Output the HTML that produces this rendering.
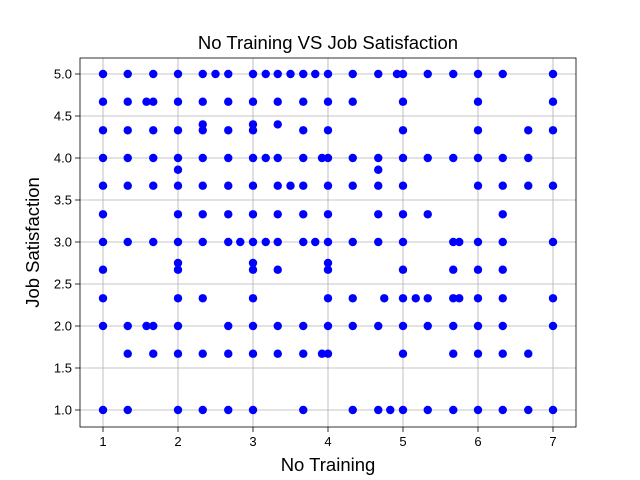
<!DOCTYPE html>
<html>
<head>
<meta charset="utf-8">
<style>
html,body{margin:0;padding:0;background:#fff;}
svg{display:block;font-family:"Liberation Sans","DejaVu Sans",sans-serif;}
</style>
</head>
<body>
<svg id="chart" width="640" height="480"></svg>
<script>
const xValues = [
1,1,1,1,1,1,1,1,1,1,1,
1.33,1.33,1.33,1.33,1.33,1.33,1.33,1.33,1.33,
1.58,1.58,
1.67,1.67,1.67,1.67,1.67,1.67,1.67,1.67,
2,2,2,2,2,2,2,2,2,2,2,2,2,2,
2.33,2.33,2.33,2.33,2.33,2.33,2.33,2.33,2.33,2.33,2.33,
2.5,
2.67,2.67,2.67,2.67,2.67,2.67,2.67,2.67,2.67,2.67,
2.83,
3,3,3,3,3,3,3,3,3,3,3,3,3,3,
3.17,3.17,3.17,
3.33,3.33,3.33,3.33,3.33,3.33,3.33,3.33,3.33,3.33,
3.5,3.5,
3.67,3.67,3.67,3.67,3.67,3.67,3.67,3.67,3.67,3.67,
3.83,3.83,
3.92,3.92,
4,4,4,4,4,4,4,4,4,4,4,4,
4.33,4.33,4.33,4.33,4.33,4.33,4.33,4.33,
4.67,4.67,4.67,4.67,4.67,4.67,4.67,4.67,
4.75,4.83,4.92,
5,5,5,5,5,5,5,5,5,5,5,5,
5.17,
5.33,5.33,5.33,5.33,5.33,5.33,
5.67,5.67,5.67,5.67,5.67,5.67,5.67,5.67,
5.75,5.75,
6,6,6,6,6,6,6,6,6,6,6,
6.33,6.33,6.33,6.33,6.33,6.33,6.33,6.33,6.33,6.33,
6.67,6.67,6.67,6.67,6.67,
7,7,7,7,7,7,7,7
];
const yValues = [
5,4.67,4.33,4,3.67,3.33,3,2.67,2.33,2,1,
5,4.67,4.33,4,3.67,3,2,1.67,1,
4.67,2,
5,4.67,4.33,4,3.67,3,2,1.67,
5,4.67,4.33,4,3.86,3.67,3.33,3,2.75,2.67,2.33,2,1.67,1,
5,4.67,4.4,4.33,4,3.67,3.33,3,2.33,1.67,1,
5,
5,4.67,4.33,4,3.67,3.33,3,2,1.67,1,
3,
5,4.67,4.4,4.33,4,3.67,3.33,3,2.75,2.67,2.33,2,1.67,1,
5,4,3,
5,4.67,4.4,4,3.67,3.33,3,2.67,2,1.67,
5,3.67,
5,4.67,4.33,4,3.67,3.33,3,2,1.67,1,
5,3,
4,1.67,
5,4.67,4.33,4,3.67,3.33,3,2.75,2.67,2.33,2,1.67,
5,4.67,4,3.67,3,2.33,2,1,
5,4,3.86,3.67,3.33,3,2,1,
2.33,1,5,
5,4.67,4.33,4,3.67,3.33,3,2.67,2.33,2,1.67,1,
2.33,
5,4,3.33,2.33,2,1,
5,4,3,2.67,2.33,2,1.67,1,
2.33,3,
5,4.67,4.33,4,3.67,3,2.67,2.33,2,1.67,1,
5,4,3.67,3.33,3,2.67,2.33,2,1.67,1,
4.33,4,3.67,1.67,1,
5,4.67,4.33,3.67,3,2.33,2,1
];
const xTicks = [1,2,3,4,5,6,7];
const yTicks = [1.0,1.5,2.0,2.5,3.0,3.5,4.0,4.5,5.0];

const NS = "http://www.w3.org/2000/svg";
const svg = document.getElementById('chart');
const L = 80, R = 576, T = 58, B = 427;
function sx(v){ return 103 + (v - 1) * 75; }
function sy(v){ return 410 - (v - 1) * 84; }
function mk(tag, attrs, parent){
  const e = document.createElementNS(NS, tag);
  for (const k in attrs) e.setAttribute(k, attrs[k]);
  (parent || svg).appendChild(e);
  return e;
}
const grid = mk('g', {});


xTicks.forEach(t => {
  const l = mk('line', {x1:sx(t), x2:sx(t), y1:T, y2:B, stroke:'#b0b0b0', 'stroke-width':0.8}, grid);
  
  
  const tk = mk('line', {x1:sx(t), x2:sx(t), y1:B, y2:B+5, stroke:'#000', 'stroke-width':0.8});
  
  
  const tx = mk('text', {x:sx(t), y:B+19, 'font-size':13, 'text-anchor':'middle'});
  tx.textContent = String(t);
  
  
});
yTicks.forEach(t => {
  const l = mk('line', {x1:L, x2:R, y1:sy(t), y2:sy(t), stroke:'#b0b0b0', 'stroke-width':0.8}, grid);
  
  
  const tk = mk('line', {x1:L-5, x2:L, y1:sy(t), y2:sy(t), stroke:'#000', 'stroke-width':0.8});
  
  
  const tx = mk('text', {x:L-8, y:sy(t)+4.5, 'font-size':13, 'text-anchor':'end'});
  tx.textContent = t.toFixed(1);
  
  
});
const pts = mk('g', {});


xValues.forEach((x, i) => {
  const c = mk('circle', {cx:sx(x), cy:sy(yValues[i]), r:4.2, fill:'#0000ff'}, pts);
  
  
});
const frame = mk('rect', {x:L, y:T, width:R-L, height:B-T, fill:'none', stroke:'#000', 'stroke-width':0.8});


const title = mk('text', {x:(L+R)/2, y:49, 'font-size':18.5, 'text-anchor':'middle'});
title.textContent = 'No Training VS Job Satisfaction';


const xl = mk('text', {x:(L+R)/2, y:471, 'font-size':18.5, 'text-anchor':'middle'});
xl.textContent = 'No Training';


const yl = mk('text', {x:0, y:0, 'font-size':18.5, 'text-anchor':'middle', transform:'translate(39,'+((T+B)/2)+') rotate(-90)'});
yl.textContent = 'Job Satisfaction';


</script>
</body>
</html>
